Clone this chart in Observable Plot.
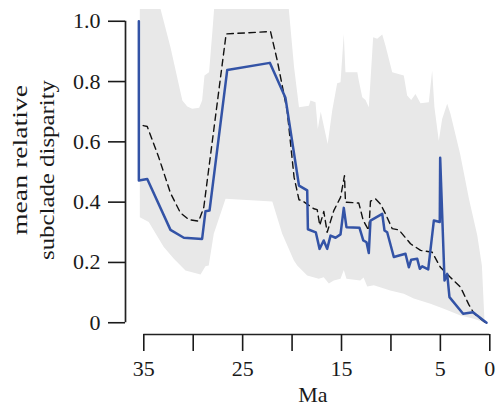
<!DOCTYPE html>
<html><head><meta charset="utf-8">
<script src="https://cdn.jsdelivr.net/npm/d3@7"></script>
<script src="https://cdn.jsdelivr.net/npm/@observablehq/plot@0.6"></script>
<style>
body{margin:0;background:#fff}
svg{display:block}
svg text, svg tspan, svg g { font-family: "Liberation Serif", "Times New Roman", Times, serif !important; }
</style>
</head><body><div id="chart"></div>
<script>
// Observed mean relative subclade disparity (blue)
const obsMa  = [35.5, 35.5, 34.65, 32.3, 30.95, 29.1, 28.76, 28.35, 26.56, 22.25, 20.67, 19.3, 18.47, 18.4, 17.6, 17.22, 16.8, 16.45, 16.11, 15.6, 15.1, 14.77, 14.5, 13.18, 12.8, 12.47, 12.24, 12.07, 10.88, 10.65, 10.38, 9.71, 8.53, 8.19, 7.95, 7.34, 7.08, 6.84, 6.23, 5.66, 5.06, 5.02, 4.58, 4.31, 4.08, 2.7, 1.7, 0.33];
const obsVal = [1.0, 0.472, 0.477, 0.308, 0.282, 0.278, 0.37, 0.372, 0.838, 0.862, 0.746, 0.455, 0.439, 0.31, 0.3, 0.245, 0.273, 0.245, 0.289, 0.282, 0.293, 0.381, 0.317, 0.315, 0.273, 0.267, 0.231, 0.339, 0.361, 0.306, 0.3, 0.218, 0.229, 0.184, 0.209, 0.212, 0.179, 0.187, 0.177, 0.339, 0.334, 0.547, 0.14, 0.162, 0.085, 0.03, 0.035, 0.0];
// Expected (dashed)
const expMa  = [35.06, 34.65, 33.5, 32.3, 31.3, 30.45, 29.44, 28.93, 26.67, 22.18, 21.5, 20.5, 19.8, 19.3, 18.98, 17.8, 17.46, 17.2, 16.79, 16.45, 15.78, 15.1, 14.7, 14.6, 13.25, 12.8, 12.24, 12.07, 11.56, 11.06, 10.55, 9.87, 9.2, 8.02, 7.0, 5.83, 5.0, 4.0, 2.96, 2.12, 1.62, 0.45];
const expVal = [0.654, 0.651, 0.55, 0.43, 0.365, 0.342, 0.337, 0.383, 0.958, 0.966, 0.87, 0.704, 0.483, 0.408, 0.405, 0.378, 0.375, 0.323, 0.369, 0.3, 0.372, 0.416, 0.488, 0.4, 0.397, 0.339, 0.306, 0.403, 0.411, 0.394, 0.361, 0.312, 0.308, 0.262, 0.24, 0.234, 0.184, 0.151, 0.118, 0.06, 0.032, 0.0];
// Envelope upper bound
const upMa  = [35.4, 33.5, 33.3, 32.3, 31.1, 30.6, 30.1, 29.4, 29.1, 28.86, 28.4, 28.08, 27.75, 20.4, 20.33, 19.8, 19.3, 18.3, 18.14, 17.63, 17.4, 17.1, 16.4, 15.94, 15.44, 15.1, 14.77, 14.6, 13.4, 13.25, 12.9, 12.57, 12.24, 12.07, 11.8, 11.39, 10.88, 10.55, 9.87, 8.7, 8.36, 7.95, 7.52, 7.01, 6.17, 5.83, 5.6, 5.16, 4.82, 4.31, 3.98, 3.0, 2.1, 1.27, 0.8, 0.55];
const upVal = [1.1, 1.1, 1.04, 0.914, 0.737, 0.717, 0.71, 0.713, 0.737, 0.82, 0.831, 0.958, 1.1, 1.1, 1.04, 0.848, 0.715, 0.72, 0.737, 0.731, 0.643, 0.7, 0.593, 0.704, 0.794, 0.798, 0.958, 0.831, 0.831, 0.803, 0.748, 0.739, 0.715, 0.803, 0.947, 0.942, 0.956, 0.919, 0.831, 0.82, 0.754, 0.739, 0.759, 0.728, 0.731, 0.837, 0.715, 0.604, 0.676, 0.726, 0.693, 0.56, 0.41, 0.29, 0.19, 0.015];
// Envelope lower bound
const loMa  = [35.4, 34.5, 32.98, 31.96, 30.78, 29.26, 28.76, 28.43, 27.92, 26.73, 22.0, 21.0, 19.83, 19.48, 18.47, 17.3, 16.8, 16.28, 15.78, 15.1, 14.77, 14.5, 13.1, 12.77, 12.4, 11.73, 10.07, 8.7, 7.69, 6.0, 4.65, 2.96, 1.62, 0.55];
const loVal = [0.35, 0.334, 0.251, 0.212, 0.173, 0.16, 0.187, 0.19, 0.295, 0.411, 0.402, 0.295, 0.207, 0.19, 0.157, 0.146, 0.151, 0.13, 0.14, 0.146, 0.175, 0.146, 0.14, 0.15, 0.12, 0.124, 0.107, 0.096, 0.08, 0.063, 0.046, 0.024, 0.013, 0.002];

const xTicks = [35, 30, 25, 20, 15, 10, 5, 0];
const xTickLabels = ["35", "", "25", "", "15", "", "5", "0"];
const yTicks = [0, 0.2, 0.4, 0.6, 0.8, 1.0];
const yTickLabels = ["0", "0.2", "0.4", "0.6", "0.8", "1.0"];
const xTitle = "Ma";
const yTitle = ["mean relative", "subclade disparity"];

const zip = (a, b) => a.map((x, i) => ({x, y: b[i]}));
const observed = zip(obsMa, obsVal);
const expected = zip(expMa, expVal);
const band = [...zip(upMa, upVal), ...zip(loMa, loVal).reverse()];
const xLab = new Map(xTicks.map((t, i) => [t, xTickLabels[i]]));
const yLab = new Map(yTicks.map((t, i) => [t, yTickLabels[i]]));

const font = '"Liberation Serif", "Times New Roman", Times, serif';
const xMax = 36.85, yMin = -0.039, yMax = 1.039;

const plot = Plot.plot({
  width: 496, height: 407,
  marginLeft: 125, marginRight: 6.7, marginTop: 9, marginBottom: 73,
  x: {domain: [xMax, 0], label: null},
  y: {domain: [yMin, yMax], label: null},
  style: {fontFamily: font, fontSize: "22px", background: "white", color: "#1a1a1a"},
  marks: [
    Plot.line(band, {x: "x", y: "y", fill: "#e8e8e8", stroke: "none", clip: true, curve: "linear"}),
    Plot.line(expected, {x: "x", y: "y", stroke: "#111", strokeWidth: 1.4, strokeDasharray: "6.5,4.5"}),
    Plot.line(observed, {x: "x", y: "y", stroke: "#3353a6", strokeWidth: 2.5}),
    Plot.ruleX([xMax], {y1: 0, y2: 1, stroke: "#222", strokeWidth: 1.7}),
    Plot.ruleY([yMin], {x1: 35, x2: 0, stroke: "#222", strokeWidth: 1.7}),
    Plot.axisY(yTicks, {anchor: "left", tickSize: 17, tickPadding: 8, strokeWidth: 1.6, tickFormat: d => yLab.get(d), fontSize: 22, label: null}),
    Plot.axisX(xTicks, {anchor: "bottom", tickSize: 17, tickPadding: 9, strokeWidth: 1.6, tickFormat: d => xLab.get(d), fontSize: 22, label: null}),
    Plot.text([xTitle], {text: d => d, frameAnchor: "bottom", dx: 5.3, dy: 60.7, lineAnchor: "middle", fontSize: 22})
  ]
});

const svg = d3.select(plot);
const titlePos = [{x: 26.7, y: 160, len: 150}, {x: 54, y: 170, len: 180}];
yTitle.forEach((t, i) => {
  svg.append("text")
    .attr("transform", `translate(${titlePos[i].x},${titlePos[i].y}) rotate(-90)`)
    .attr("text-anchor", "middle")
    .style("font-family", font)
    .attr("font-size", 21)
    .attr("fill", "#1a1a1a")
    .attr("textLength", titlePos[i].len)
    .attr("lengthAdjust", "spacingAndGlyphs")
    .text(t);
});
document.getElementById("chart").append(plot);
</script>
</body></html>
